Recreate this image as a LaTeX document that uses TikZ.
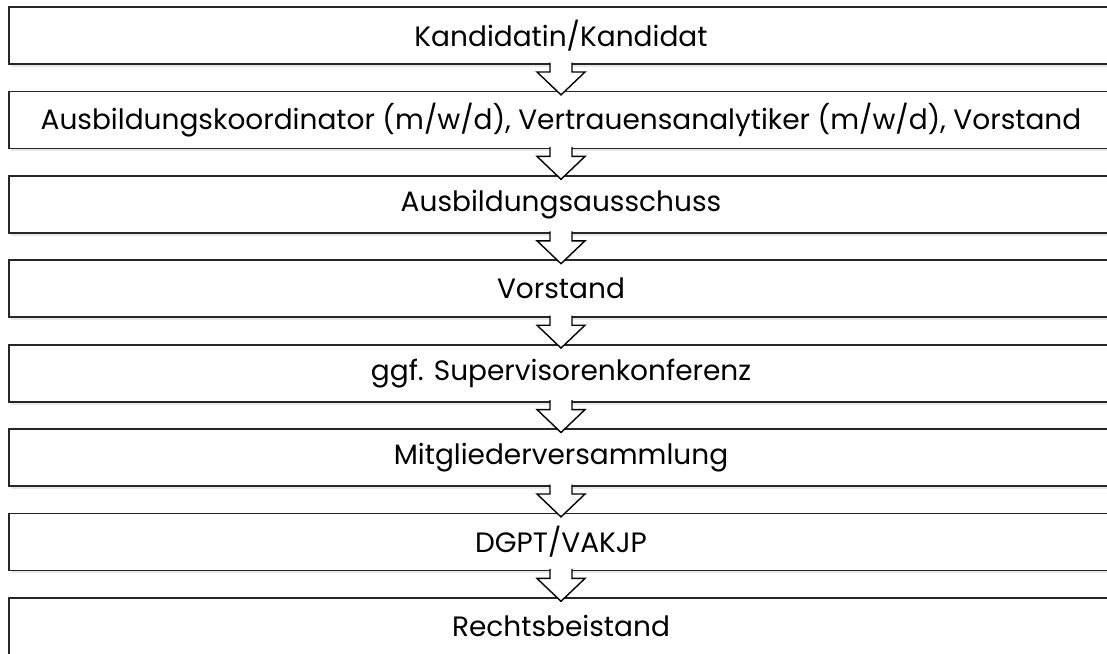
\documentclass[tikz,border=0pt]{standalone}
\usepackage{fontspec}
\setmainfont{Poppins}
\usetikzlibrary{positioning,shadows}
\tikzset{
  stagebox/.style={draw=black!85, line width=1.8pt, fill=white, outer sep=0pt,
    minimum width=1104pt, minimum height=57pt, inner sep=0pt,
    font=\fontsize{28}{32}\selectfont,
    drop shadow={opacity=0.18, shadow xshift=2pt, shadow yshift=-3pt}},
  flowarrow/.style={draw=black, line width=1.4pt, fill=white, line join=miter}
}
\begin{document}
\begin{tikzpicture}[x=1pt,y=1pt, node distance=27.4pt]
    \useasboundingbox (0,0) rectangle (1107,-653);

    % stages
    \node[stagebox] (kand) at (561,-35.5) {Kandidatin/Kandidat};
    \node[stagebox, below=of kand] (koord) {Ausbildungskoordinator (m/w/d), Vertrauensanalytiker (m/w/d), Vorstand};
    \node[stagebox, below=of koord] (aussch) {Ausbildungsausschuss};
    \node[stagebox, below=of aussch] (vorst) {Vorstand};
    \node[stagebox, below=of vorst] (superv) {ggf. Supervisorenkonferenz};
    \node[stagebox, below=of superv] (mitgl) {Mitgliederversammlung};
    \node[stagebox, below=of mitgl] (dgpt) {DGPT/VAKJP};
    \node[stagebox, below=of dgpt] (recht) {Rechtsbeistand};

    % block arrows between stages
    \foreach \from/\to in {kand/koord, koord/aussch, aussch/vorst, vorst/superv,
                           superv/mitgl, mitgl/dgpt, dgpt/recht} {
      \path (\from.south) coordinate (top) (\to.north) coordinate (tip);
      \draw[flowarrow, shift={(top)}] (-11,1.5) -- (-11,-8) -- (-24,-8)
        -- ([shift={(0,-3.5)}]tip) -- (24,-8) -- (11,-8) -- (11,1.5);
    }
\end{tikzpicture}
\end{document}
